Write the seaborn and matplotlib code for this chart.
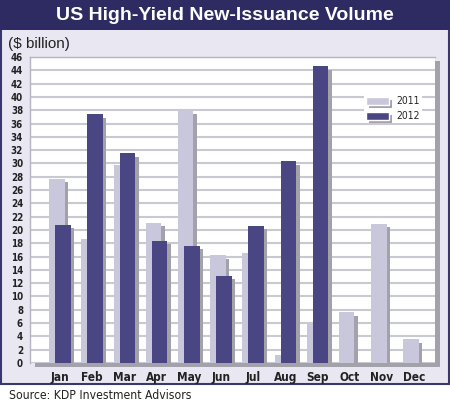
import numpy as np
import pandas as pd
import matplotlib
matplotlib.use('Agg')
import matplotlib.pyplot as plt
import matplotlib.patheffects as pe
from matplotlib.patches import Rectangle
import seaborn as sns

# ---- data ----
months = ['Jan', 'Feb', 'Mar', 'Apr', 'May', 'Jun',
          'Jul', 'Aug', 'Sep', 'Oct', 'Nov', 'Dec']
vol_2011 = [27.7, 18.6, 29.8, 21.1, 38.0, 16.2, 16.6, 1.2, 6.2, 7.6, 20.9, 3.6]
vol_2012 = [20.8, 37.4, 31.5, 18.4, 17.6, 13.1, 20.6, 30.3, 44.6,
            np.nan, np.nan, np.nan]
years = ['2011', '2012']
yticks = list(range(0, 47, 2))

df = pd.DataFrame({
    'month': months * 2,
    'value': vol_2011 + vol_2012,
    'year': ['2011'] * 12 + ['2012'] * 12,
})

c_light = '#c9c7dc'
c_dark = '#4a4683'
navy = '#2e2b63'
panel_bg = '#e9e7f1'
shadow = '#a3a2ab'

sns.set_style('white')
plt.rcParams['font.family'] = ['DejaVu Sans']
plt.rcParams['font.stretch'] = 'condensed'

fig = plt.figure(figsize=(4.5, 4.09), dpi=100)
fig.patch.set_facecolor('white')

# background panel + title banner
fig.add_artist(Rectangle((0.002, 0.061), 0.996, 0.937, transform=fig.transFigure,
                         facecolor=panel_bg, edgecolor='#3a3670', lw=1.5, zorder=0))
fig.add_artist(Rectangle((0, 0.927), 1, 0.073, transform=fig.transFigure,
                         facecolor=navy, edgecolor='none', zorder=1))
fig.text(0.5, 0.963, 'US High-Yield New-Issuance Volume', color='white',
         fontsize=14, fontweight='bold', ha='center', va='center',
         family=['Liberation Sans', 'DejaVu Sans'], fontstretch='normal')
fig.text(0.018, 0.893, '($ billion)', color='#222222', fontsize=11,
         ha='left', va='center', family=['Liberation Sans', 'DejaVu Sans'],
         fontstretch='normal')
fig.text(0.02, 0.032, 'Source: KDP Investment Advisors', color='#222222',
         fontsize=8.7, ha='left', va='center')

ax = fig.add_axes([0.0667, 0.1125, 0.9, 0.748])
ax.patch.set_facecolor('white')
ax.patch.set_path_effects([pe.SimplePatchShadow(offset=(3.5, -3), shadow_rgbFace=shadow,
                                                alpha=1), pe.Normal()])

sns.barplot(data=df, x='month', y='value', hue='year', hue_order=years,
            palette=[c_light, c_dark], width=0.96, dodge=True,
            saturation=1, ax=ax, zorder=3)

# pull the pair of bars together so they overlap like the original
shifts = [0.145, -0.145]
bar_fx = [pe.SimplePatchShadow(offset=(2.5, -2.5), shadow_rgbFace=shadow, alpha=1),
          pe.Normal()]
for cont, dx in zip(ax.containers, shifts):
    for bar in cont:
        bar.set_x(bar.get_x() + dx)
        bar.set_linewidth(0)
        bar.set_path_effects(bar_fx)

ax.set_xlim(-0.93, 11.65)
ax.set_ylim(0, 46)
ax.set_yticks(yticks)
ax.yaxis.grid(True, color='#c9c9d1', lw=1.5, zorder=0)
ax.set_axisbelow(True)
ax.set_xlabel('')
ax.set_ylabel('')
ax.tick_params(axis='y', length=0, pad=5, labelsize=7, colors='#222222')
ax.tick_params(axis='x', length=0, pad=6, labelsize=8.5, colors='#222222')
for lab in ax.get_yticklabels() + ax.get_xticklabels():
    lab.set_fontweight('bold')
for side in ['top', 'left']:
    ax.spines[side].set_color('#b5b5c2')
    ax.spines[side].set_linewidth(1)
for side in ['right', 'bottom']:
    ax.spines[side].set_visible(False)

leg = ax.legend(loc='upper right', bbox_to_anchor=(0.98, 0.895), frameon=True,
                facecolor='white', edgecolor='none', framealpha=1, fancybox=False,
                fontsize=7.5, handlelength=2.2, handleheight=0.8, labelspacing=0.45,
                borderpad=0.2, handletextpad=0.7)
for h in leg.legend_handles:
    h.set_path_effects(bar_fx)

fig.savefig('out.png', dpi=100, facecolor=fig.get_facecolor())
